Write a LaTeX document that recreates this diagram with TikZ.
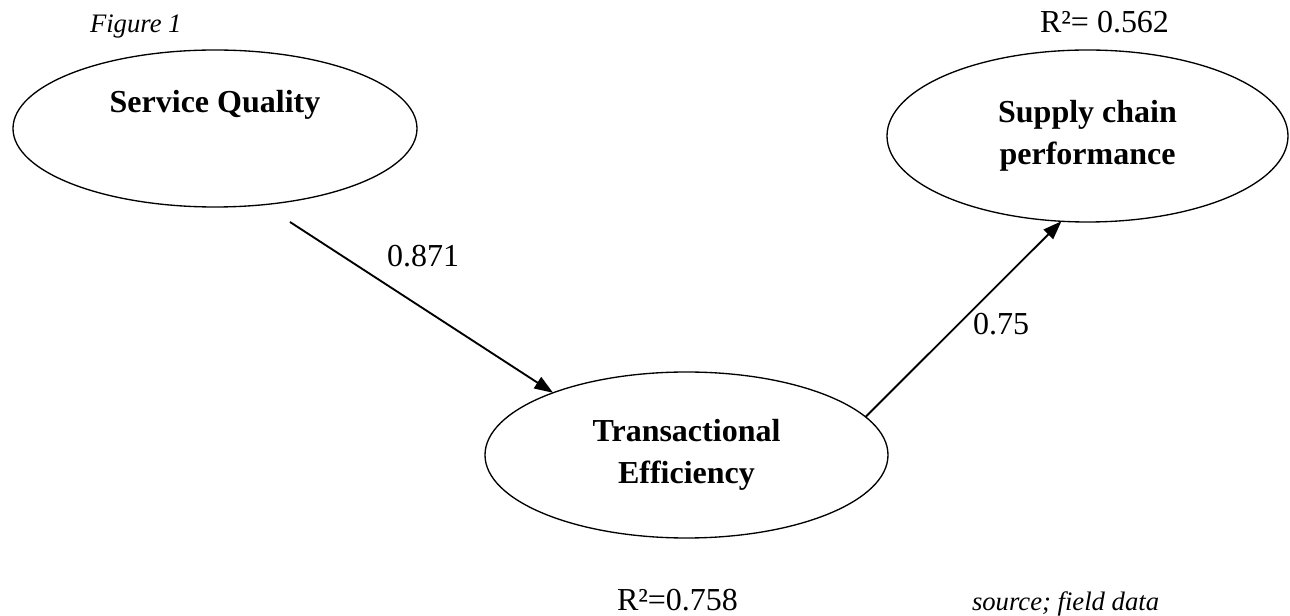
\documentclass[tikz,border=0pt]{standalone}
\usepackage{fontspec}
\setmainfont{Liberation Serif}
\usetikzlibrary{arrows.meta,shapes.geometric}
\tikzset{
  base/.style={font=\fontsize{24}{31.5}\selectfont, text=black, inner sep=0pt, outer sep=0pt},
  construct/.style={base, ellipse, draw, line width=1pt, align=center, font=\bfseries\fontsize{24}{31.5}\selectfont},
  coef/.style={base, anchor=base west},
  caption/.style={base, anchor=base west, font=\itshape\fontsize{20}{24}\selectfont},
  arrow/.style={-{Triangle[length=14pt,width=10pt]}, line width=1.4pt},
}

\begin{document}
\begin{tikzpicture}[x=0.75pt,y=-0.75pt]
  \useasboundingbox (0,0) rectangle (1290,616);

  \node[caption] (fig) at (90,33) {Figure 1};

  \node[construct,minimum width=303pt,minimum height=117.75pt] (sq) at (215,128.5) {Service Quality\\\strut};
  \node[construct,minimum width=300.75pt,minimum height=129pt] (scp) at (1087.5,136) {Supply chain\\performance};
  \node[construct,minimum width=302.25pt,minimum height=124.5pt] (te) at (686.5,455) {Transactional\\Efficiency};

  \coordinate (sqfoot) at (290,222);
  \draw[arrow] (sqfoot) -- (te.155);
  \draw[arrow] (te.12) -- (scp.253);

  \node[coef] (b1) at (387,267) {0.871};
  \node[coef] (b2) at (973,335) {0.75};
  \node[coef] (rscp) at (1040,33) {R²= 0.562};
  \node[coef] (rte) at (617,610) {R²=0.758};
  \node[caption] (src) at (972,610) {source; field data};
\end{tikzpicture}
\end{document}
